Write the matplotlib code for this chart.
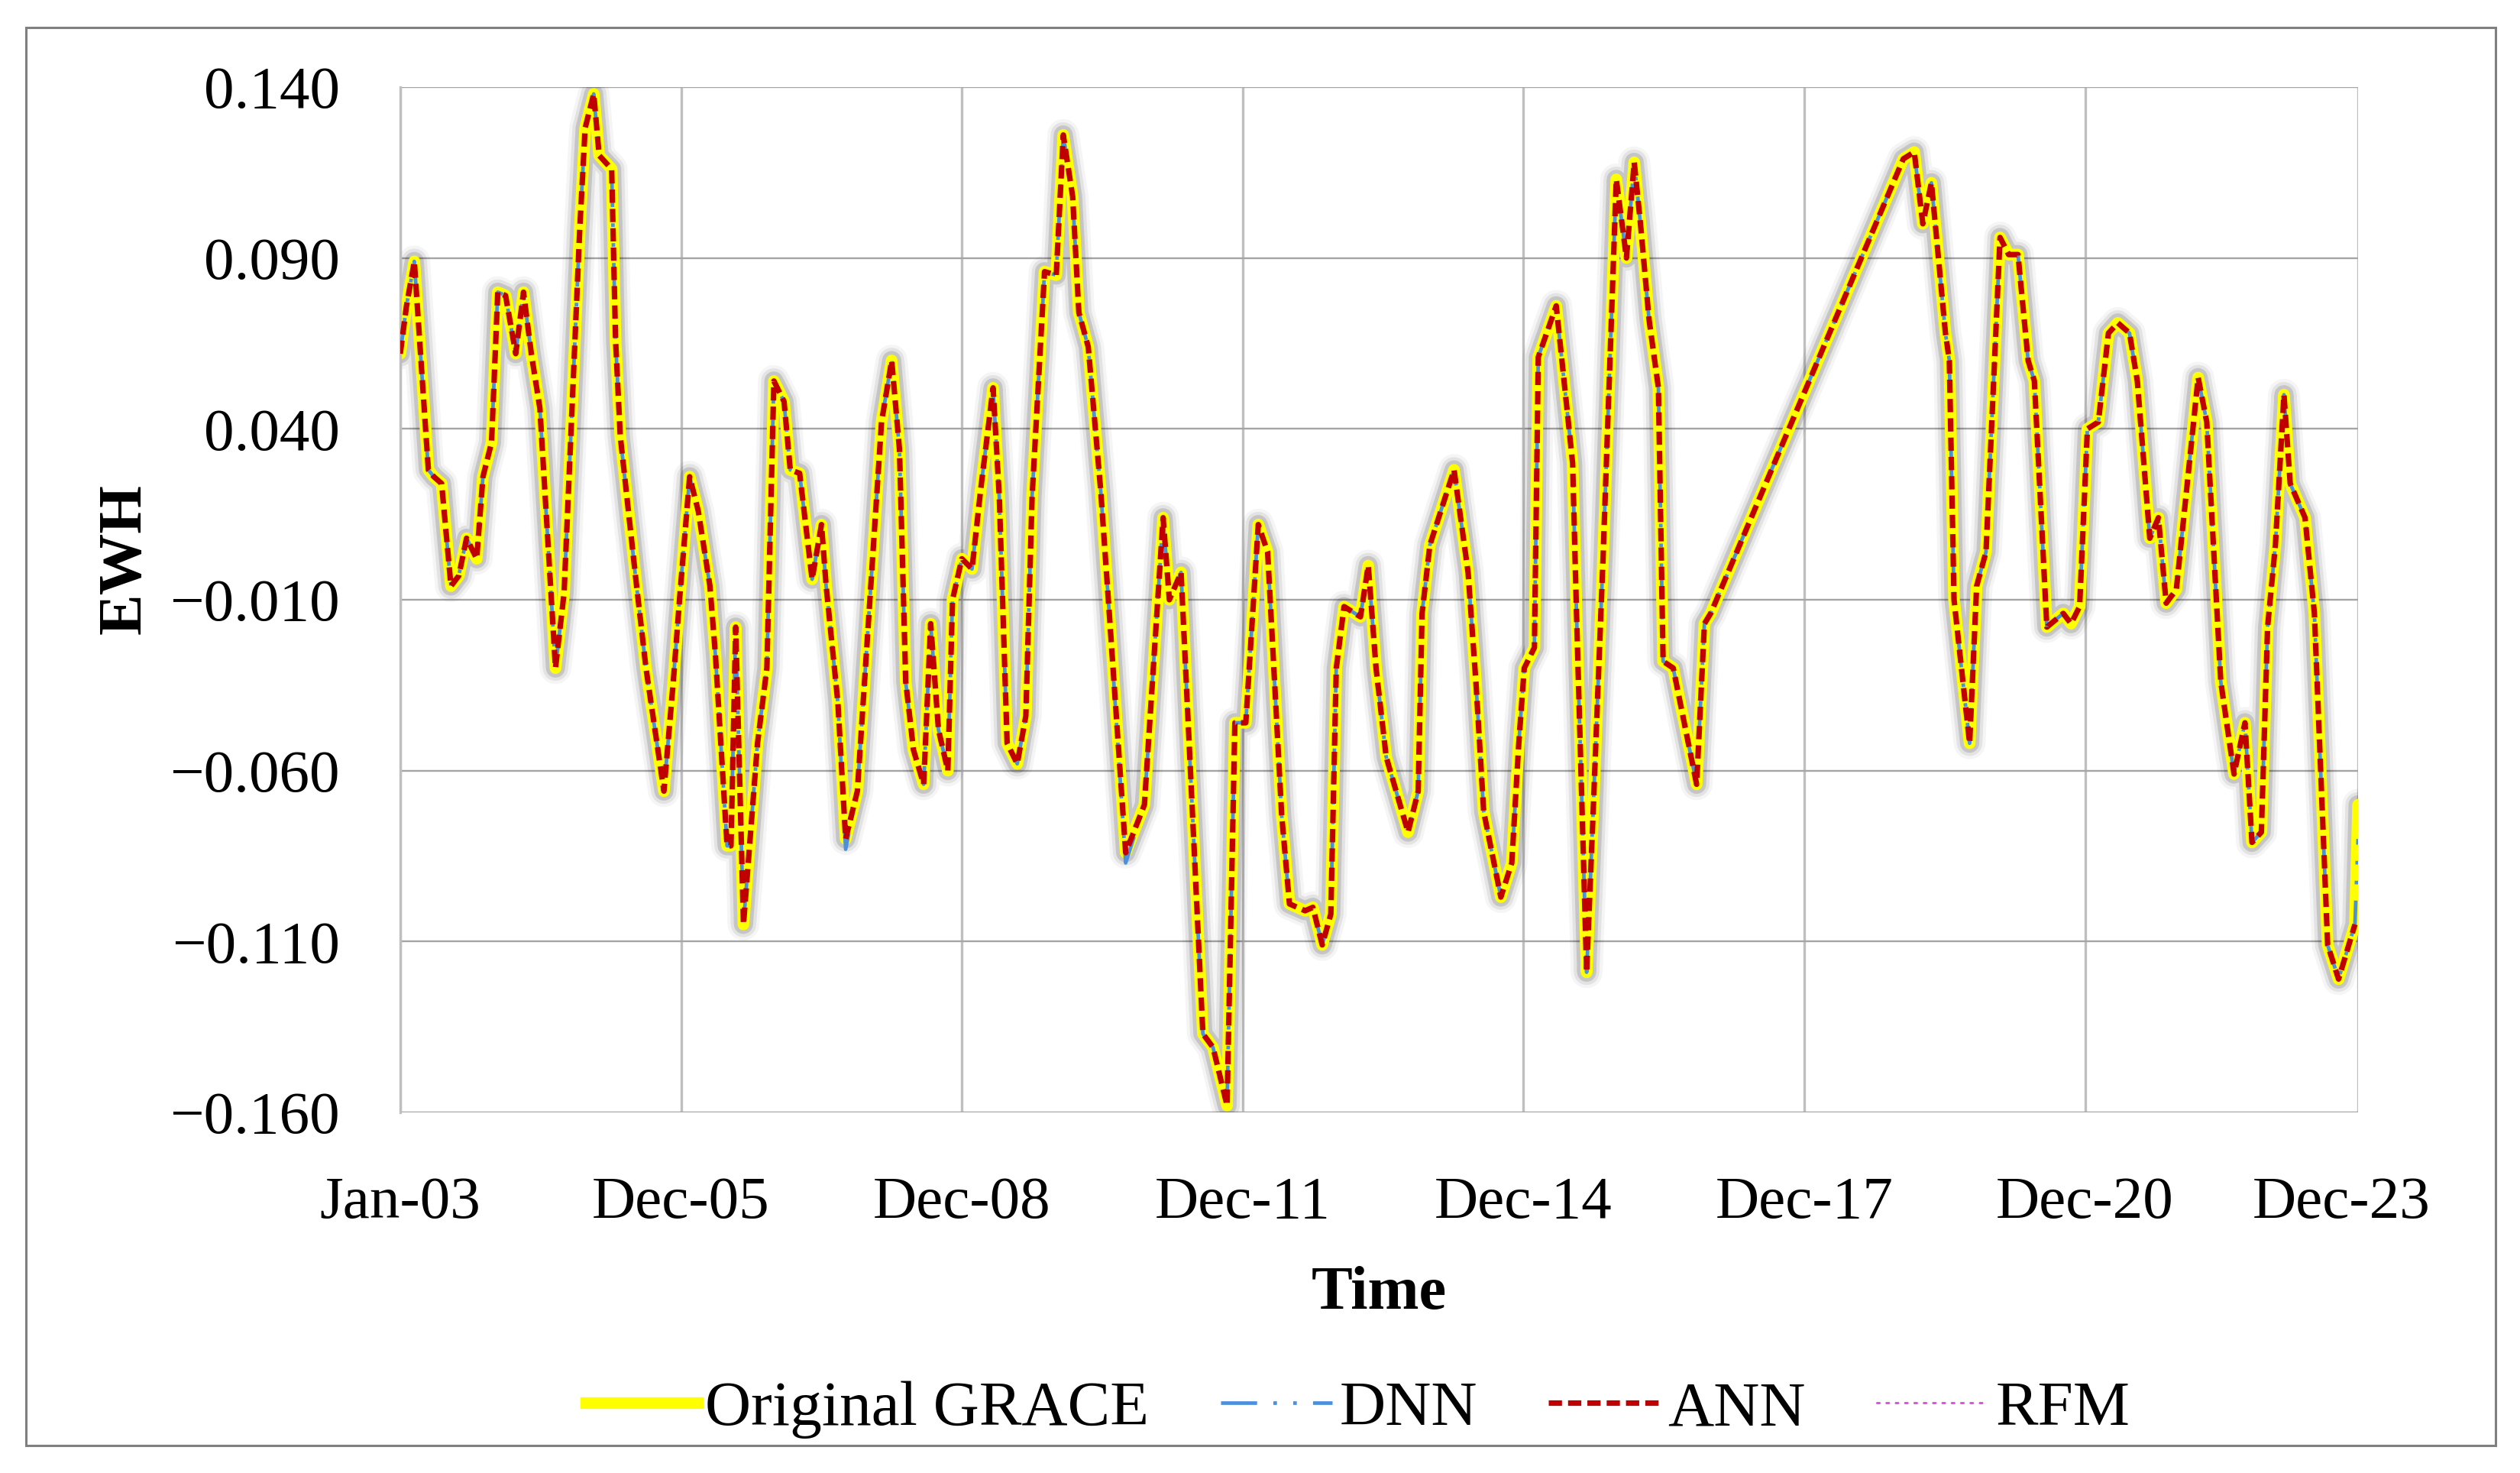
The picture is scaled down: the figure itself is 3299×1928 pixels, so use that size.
import matplotlib
matplotlib.use("Agg")
import matplotlib.pyplot as plt
import matplotlib.patheffects as pe
import matplotlib.transforms as mtransforms
from matplotlib.lines import Line2D
from matplotlib.patches import Rectangle

plt.rcParams['font.family'] = ['Liberation Serif', 'DejaVu Serif']

# month index counted from Jan-2003
months = [0.0, 0.8, 1.8, 3.6, 4.3, 5.3, 6.5, 7.5, 8.5, 9.8, 10.6, 11.7, 12.5, 13.5,
          14.8, 15.8, 16.8, 17.9, 19.9, 21.0, 22.4, 23.0, 23.7, 24.8, 25.5, 27.1,
          27.6, 28.2, 30.2, 31.5, 33.8, 35.0, 35.8, 37.1, 38.2, 39.7, 40.4, 41.9,
          42.4, 43.0, 44.0, 45.8, 47.0, 47.9, 49.2, 50.0, 51.2, 52.8, 54.0, 54.6,
          56.1, 57.1, 58.6, 61.7, 63.0, 64.0, 64.8, 65.8, 67.1, 68.0, 69.0, 70.2,
          70.8, 72.0, 73.3, 74.4, 76.0, 76.8, 77.8, 79.1, 80.2, 81.0, 82.6, 84.1,
          85.0, 86.2, 87.0, 88.2, 89.8, 90.9, 93.0, 95.4, 97.8, 98.6, 100.1, 102.9,
          104.2, 106.0, 107.0, 108.4, 110.0, 111.2, 113.0, 114.0, 116.0, 117.0,
          118.2, 119.3, 120.0, 121.0, 123.1, 124.1, 125.1, 126.4, 129.2, 130.5,
          131.0, 132.0, 135.1, 136.9, 137.9, 138.9, 141.1, 142.5, 143.4, 144.1,
          145.4, 145.9, 148.2, 150.3, 150.8, 152.1, 152.9, 154.2, 155.9, 157.2,
          158.2, 159.0, 160.1, 161.3, 161.9, 163.2, 166.2, 167.2, 168.0, 192.7,
          194.1, 195.2, 196.3, 198.1, 198.6, 199.2, 201.2, 202.1, 203.3, 205.1,
          206.2, 207.4, 208.7, 209.5, 211.1, 213.2, 214.2, 215.3, 216.3, 217.7,
          219.0, 220.2, 221.7, 222.7, 224.3, 225.4, 226.4, 227.7, 230.5, 231.6,
          233.4, 235.1, 236.5, 237.4, 238.6, 239.4, 240.4, 241.5, 242.3, 244.2,
          245.4, 247.1, 248.5, 250.6, 251.0]

grace = [0.062, 0.076, 0.089, 0.028, 0.026, 0.024, -0.006, -0.003, 0.008, 0.002, 0.026,
         0.036, 0.080, 0.079, 0.062, 0.080, 0.062, 0.046, -0.030, -0.008, 0.066, 0.098,
         0.128, 0.138, 0.120, 0.116, 0.066, 0.038, -0.004, -0.030, -0.066, -0.034,
         -0.010, 0.026, 0.016, -0.006, -0.026, -0.082, -0.082, -0.018, -0.105, -0.052,
         -0.030, 0.054, 0.048, 0.028, 0.027, -0.004, 0.012, -0.006, -0.040, -0.080,
         -0.066, 0.042, 0.060, 0.034, -0.034, -0.054, -0.064, -0.017, -0.048, -0.060,
         -0.010, 0.002, -0.001, 0.022, 0.052, 0.020, -0.052, -0.058, -0.044, 0.020,
         0.086, 0.085, 0.126, 0.108, 0.074, 0.064, 0.022, -0.014, -0.084, -0.070,
         0.014, -0.010, -0.002, -0.137, -0.141, -0.158, -0.046, -0.046, 0.012, 0.004,
         -0.073, -0.099, -0.101, -0.100, -0.111, -0.102, -0.030, -0.012, -0.015, 0.000,
         -0.030, -0.056, -0.078, -0.066, -0.014, 0.006, 0.028, -0.002, -0.034, -0.072,
         -0.097, -0.087, -0.052, -0.030, -0.024, 0.061, 0.076, 0.030, -0.014, -0.119,
         -0.074, 0.002, 0.113, 0.090, 0.118, 0.100, 0.072, 0.052, -0.028, -0.030,
         -0.064, -0.017, -0.014, 0.119, 0.121, 0.100, 0.112, 0.068, 0.060, -0.010,
         -0.052, -0.006, 0.004, 0.096, 0.091, 0.091, 0.060, 0.054, -0.018, -0.014,
         -0.017, -0.012, 0.040, 0.042, 0.068, 0.071, 0.068, 0.054, 0.008, 0.014,
         -0.011, -0.007, 0.055, 0.042, -0.034, -0.061, -0.046, -0.081, -0.078, -0.018,
         0.006, 0.050, 0.024, 0.014, -0.014, -0.111, -0.121, -0.105, -0.070]

# the models follow GRACE almost exactly; only these points differ visibly
dnn_diff = {57.1: -0.083, 93.0: -0.087, 251.0: -0.080}
dnn = [dnn_diff.get(m, v) for m, v in zip(months, grace)]
ann = grace[:-1]
rfm = grace[:-1]

tick_pos = [0, 36, 72, 108, 144, 180, 216, 251]
tick_lab = ['Jan-03', 'Dec-05', 'Dec-08', 'Dec-11', 'Dec-14', 'Dec-17', 'Dec-20', 'Dec-23']
y_ticks = [-0.160, -0.110, -0.060, -0.010, 0.040, 0.090, 0.140]

W, H = 3299, 1928
fig = plt.figure(figsize=(W / 100, H / 100), dpi=100)
ax = fig.add_axes([524 / W, 1 - 1456 / H, (3087 - 524) / W, (1456 - 114) / H])

FS = 57

# soft grey glow behind the yellow line
glow = [pe.Stroke(linewidth=30, foreground='black', alpha=0.04),
        pe.Stroke(linewidth=24, foreground='black', alpha=0.07),
        pe.Stroke(linewidth=18, foreground='black', alpha=0.13),
        pe.Normal()]

ax.plot(months[:-1], rfm, color='#DD55DD', lw=2.2, ls=(0, (1, 3)),
        dash_capstyle='round', zorder=1.5)
ax.plot(months, grace, color='#FFFF00', lw=11, solid_joinstyle='round',
        solid_capstyle='round', path_effects=glow, zorder=2)
ax.plot(months, dnn, color='#4A90DC', lw=3.4, ls=(0, (10, 4.5, 1, 4.5, 1, 4.5)), zorder=3)
ax.plot(months[:-1], ann, color='#C00000', lw=5.2, ls=(0, (2.4, 1.1)), zorder=4)

ax.set_xlim(0, 251)
ax.set_ylim(-0.160, 0.140)
ax.set_yticks(y_ticks)
ax.set_yticklabels([f"{v:.3f}".replace('-', '\u2212') for v in y_ticks])
ax.set_xticks(tick_pos)
ax.set_xticklabels(tick_lab)
ax.tick_params(axis='both', length=0, labelsize=FS)
ax.tick_params(axis='y', pad=57)
ax.tick_params(axis='x', pad=60)

# last date label sits a little left of the axis end
last = ax.get_xticklabels()[-1]
last.set_transform(last.get_transform() +
                   mtransforms.ScaledTranslation(-0.22, 0, fig.dpi_scale_trans))

ax.grid(axis='y', color='#A5A5A5', lw=1.7, zorder=0)
ax.grid(axis='x', color='#BFBFBF', lw=2.4, zorder=0)
ax.set_axisbelow(True)
for s in ['top', 'right', 'bottom']:
    ax.spines[s].set_visible(False)
ax.spines['left'].set_color('#BFBFBF')
ax.spines['left'].set_linewidth(2.4)

ax.set_xlabel('Time', fontsize=FS + 1, fontweight='bold', va='center')
ax.xaxis.set_label_coords(0.5, -0.177)
ax.set_ylabel('EWH', fontsize=FS + 1, fontweight='bold', va='center')
ax.yaxis.set_label_coords(-0.1405, 0.54)

handles = [Line2D([], [], color='#FFFF00', lw=11),
           Line2D([], [], color='#4A90DC', lw=3.4, ls=(0, (10, 4.5, 1, 4.5, 1, 4.5))),
           Line2D([], [], color='#C00000', lw=5.2, ls=(0, (2.4, 1.1))),
           Line2D([], [], color='#DD55DD', lw=2.2, ls=(0, (1, 3)), dash_capstyle='round')]
fig.legend(handles, ['Original GRACE', 'DNN', 'ANN', 'RFM'], loc='center',
           bbox_to_anchor=(0.539, 1 - 1845 / H), ncol=4, frameon=False,
           fontsize=60, handlelength=1.75, handletextpad=0.12, columnspacing=1.12)

fig.patches.append(Rectangle((34 / W, 1 - 1892 / H), (3267 - 34) / W, (1892 - 36) / H,
                             transform=fig.transFigure, fill=False,
                             ec='#808080', lw=2.2))

fig.savefig('out.png', dpi=100)
